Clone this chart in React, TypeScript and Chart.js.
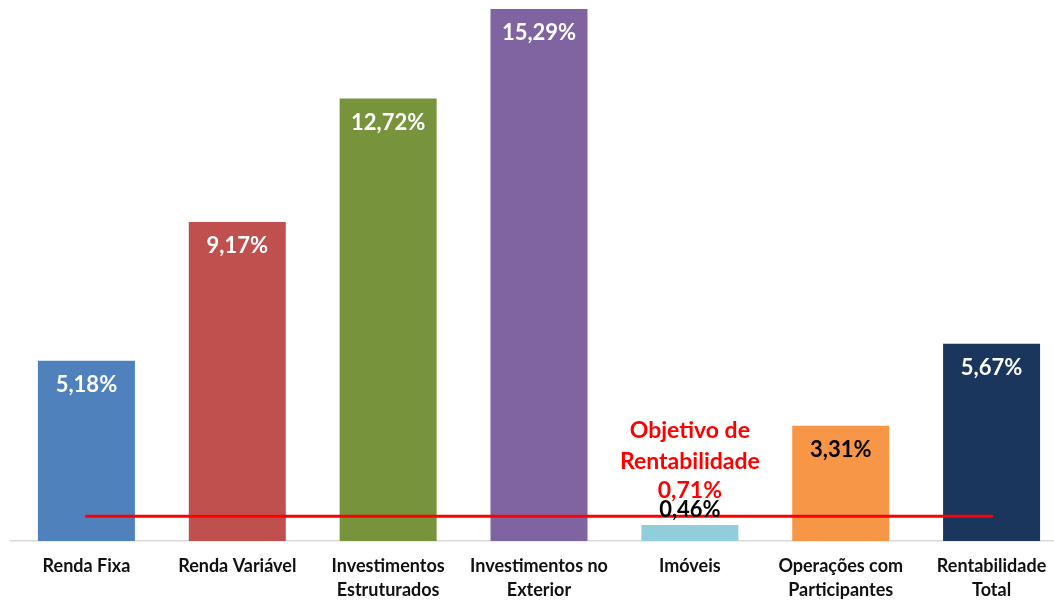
import React, { useEffect, useRef } from "react";
import { Chart, registerables } from "chart.js";

Chart.register(...registerables);

const categories: (string | string[])[] = [
  "Renda Fixa",
  "Renda Variável",
  ["Investimentos", "Estruturados"],
  ["Investimentos no", "Exterior"],
  "Imóveis",
  ["Operações com", "Participantes"],
  ["Rentabilidade", "Total"],
];
const returns = [5.18, 9.17, 12.72, 15.29, 0.46, 3.31, 5.67];
const valueLabels = ["5,18%", "9,17%", "12,72%", "15,29%", "0,46%", "3,31%", "5,67%"];
const target = 0.71;
const targetLines = ["Objetivo de", "Rentabilidade", "0,71%"];
const targetIndex = 4;

const barColors = ["#4F81BD", "#C0504D", "#77933C", "#8064A2", "#92CDDC", "#F79646", "#1B365D"];
const labelColors = ["#FFFFFF", "#FFFFFF", "#FFFFFF", "#FFFFFF", "#000000", "#000000", "#FFFFFF"];
const labelOutside = [false, false, false, false, true, false, false];

const FONT = "Lato, 'Open Sans', sans-serif";

const labelPlugin = {
  id: "valueLabels",
  afterDatasetsDraw(chart: any) {
    const ctx = chart.ctx;
    const meta = chart.getDatasetMeta(1);
    ctx.save();
    ctx.font = `bold 22px ${FONT}`;
    ctx.textAlign = "center";
    ctx.textBaseline = "middle";
    meta.data.forEach((bar: any, i: number) => {
      ctx.fillStyle = labelColors[i];
      const y = labelOutside[i] ? bar.y - 15 : bar.y + 24;
      ctx.fillText(valueLabels[i], bar.x, y);
    });
    const xs = chart.scales.x;
    const ys = chart.scales.y;
    const tx = xs.getPixelForValue(targetIndex);
    const ty = ys.getPixelForValue(target);
    ctx.fillStyle = "#FF0000";
    ctx.font = `bold 23px ${FONT}`;
    const offsets = [86, 55, 26];
    targetLines.forEach((t, i) => ctx.fillText(t, tx, ty - offsets[i]));
    ctx.restore();
  },
};

export default function App() {
  const ref = useRef<HTMLCanvasElement>(null);
  useEffect(() => {
    if (!ref.current) return;
    const chart = new Chart(ref.current, {
      type: "bar",
      data: {
        labels: categories as any,
        datasets: [
          {
            type: "line",
            data: categories.map(() => target),
            borderColor: "#FF0000",
            borderWidth: 3,
            borderCapStyle: "round",
            pointRadius: 0,
            order: 0,
          } as any,
          {
            type: "bar",
            data: returns,
            backgroundColor: barColors,
            categoryPercentage: 1,
            barPercentage: 0.643,
            order: 1,
          },
        ],
      },
      options: {
        responsive: false,
        animation: false,
        devicePixelRatio: 1,
        layout: { padding: { left: 11, top: 9, right: 0, bottom: 0 } },
        plugins: { legend: { display: false }, tooltip: { enabled: false } },
        scales: {
          x: {
            offset: true,
            grid: { display: false, drawTicks: false },
            border: { display: true, color: "#D9D9D9", width: 1.5 },
            ticks: {
              color: "#111111",
              padding: 13,
              font: { family: FONT, size: 18, weight: "bold", lineHeight: 1.35 },
              maxRotation: 0,
              autoSkip: false,
            },
            afterFit: (scale: any) => {
              scale.height = 60;
            },
          },
          y: {
            display: false,
            min: 0,
            max: Math.max(...returns),
          },
        },
      },
      plugins: [labelPlugin],
    });
    return () => chart.destroy();
  }, []);
  return (
    <div style={{ position: "fixed", left: 0, top: 0, width: 1054, height: 601, overflow: "hidden", background: "#fff" }}>
      <canvas ref={ref} width={1067} height={601} style={{ width: 1067, height: 601, display: "block" }} />
    </div>
  );
}
